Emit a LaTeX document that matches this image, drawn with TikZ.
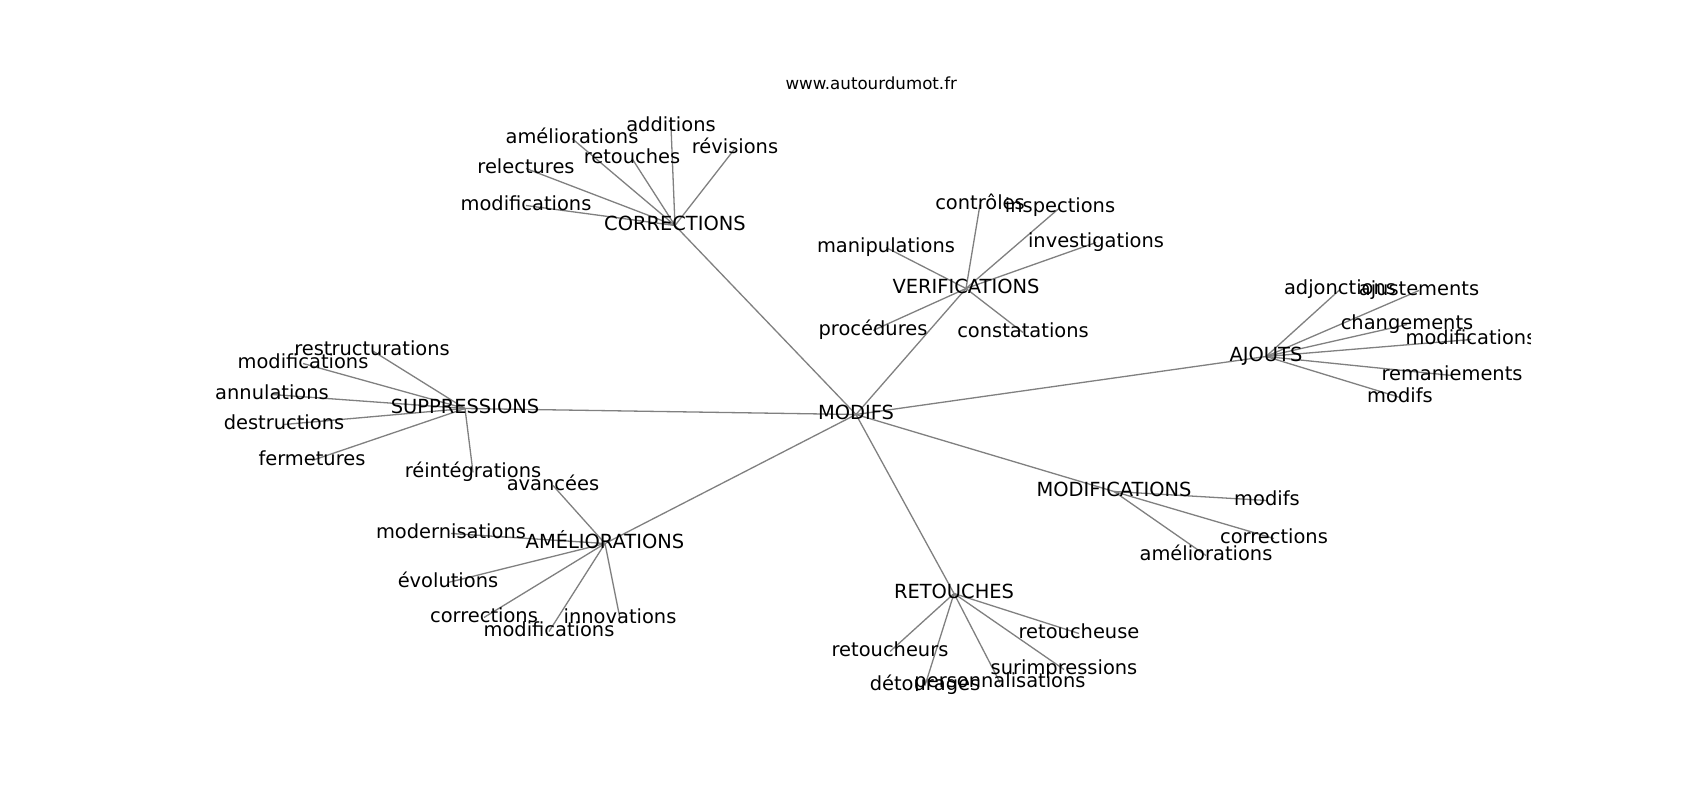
\documentclass[tikz,border=0pt]{standalone}
\usepackage{fontspec}
\setmainfont{DejaVu Sans}
\usetikzlibrary{backgrounds}
\begin{document}
\begin{tikzpicture}[x=1pt,y=-1pt,
  lbl/.style={inner sep=0pt, text height=14.77pt, text depth=4.04pt,
    font=\fontsize{19.44}{23}\selectfont, text=black},
  titlelbl/.style={anchor=base, inner sep=0pt, font=\fontsize{16.67}{20}\selectfont, text=black},
  edge/.style={draw=gray, line width=1.3pt}]
\useasboundingbox (0,0) rectangle (1700,800);
\begin{scope}[yshift=-1.5pt]
\node[titlelbl] (title) at (871.25,87.7) {www.autourdumot.fr};
\clip (0,-10) rectangle (1530,810);
% hub
\node[lbl] (m) at (856,413) {MODIFS};
% CORRECTIONS
\node[lbl] (co) at (675,224) {CORRECTIONS};
\node[lbl] (co1) at (671,125) {additions};
\node[lbl] (co2) at (572,137) {améliorations};
\node[lbl] (co3) at (632,157) {retouches};
\node[lbl] (co4) at (735,147) {révisions};
\node[lbl] (co5) at (526,167) {relectures};
\node[lbl] (co6) at (526,204) {modifications};
% VERIFICATIONS
\node[lbl] (v) at (966,287) {VERIFICATIONS};
\node[lbl] (v1) at (980,203) {contrôles};
\node[lbl] (v2) at (1060,206) {inspections};
\node[lbl] (v3) at (1096,241) {investigations};
\node[lbl] (v4) at (886,246) {manipulations};
\node[lbl] (v5) at (873,329) {procédures};
\node[lbl] (v6) at (1023,331) {constatations};
% AJOUTS
\node[lbl] (a) at (1266,355) {AJOUTS};
\node[lbl] (a1) at (1340,288) {adjonctions};
\node[lbl] (a2) at (1419,289) {ajustements};
\node[lbl] (a3) at (1407,323) {changements};
\node[lbl] (a4) at (1471,338) {modifications};
\node[lbl] (a5) at (1452,374) {remaniements};
\node[lbl] (a6) at (1400,396) {modifs};
% SUPPRESSIONS
\node[lbl] (s) at (465,407) {SUPPRESSIONS};
\node[lbl] (s1) at (372,349) {restructurations};
\node[lbl] (s2) at (303,362) {modifications};
\node[lbl] (s3) at (272,393) {annulations};
\node[lbl] (s4) at (284,423) {destructions};
\node[lbl] (s5) at (312,459) {fermetures};
\node[lbl] (s6) at (473,471) {réintégrations};
% AMELIORATIONS
\node[lbl] (am) at (605,542) {AMÉLIORATIONS};
\node[lbl] (am1) at (553,484) {avancées};
\node[lbl] (am2) at (451,532) {modernisations};
\node[lbl] (am3) at (448,581) {évolutions};
\node[lbl] (am4) at (484,616) {corrections};
\node[lbl] (am5) at (549,630) {modifications};
\node[lbl] (am6) at (620,617) {innovations};
% RETOUCHES
\node[lbl] (r) at (954,592) {RETOUCHES};
\node[lbl] (r1) at (890,650) {retoucheurs};
\node[lbl] (r2) at (925,684) {détourages};
\node[lbl] (r3) at (1000,681) {personnalisations};
\node[lbl] (r4) at (1064,668) {surimpressions};
\node[lbl] (r5) at (1079,632) {retoucheuse};
% MODIFICATIONS
\node[lbl] (mo) at (1114,490) {MODIFICATIONS};
\node[lbl] (mo1) at (1267,499) {modifs};
\node[lbl] (mo2) at (1274,537) {corrections};
\node[lbl] (mo3) at (1206,554) {améliorations};
\end{scope}
\begin{pgfonlayer}{background}
\fill[white] (0,0) rectangle (1700,800);
\foreach \h in {co,v,a,s,am,r,mo} {\draw[edge] (m.center) -- (\h.center);}
\foreach \c in {co1,co2,co3,co4,co5,co6} {\draw[edge] (co.center) -- (\c.center);}
\foreach \c in {v1,v2,v3,v4,v5,v6} {\draw[edge] (v.center) -- (\c.center);}
\foreach \c in {a1,a2,a3,a4,a5,a6} {\draw[edge] (a.center) -- (\c.center);}
\foreach \c in {s1,s2,s3,s4,s5,s6} {\draw[edge] (s.center) -- (\c.center);}
\foreach \c in {am1,am2,am3,am4,am5,am6} {\draw[edge] (am.center) -- (\c.center);}
\foreach \c in {r1,r2,r3,r4,r5} {\draw[edge] (r.center) -- (\c.center);}
\foreach \c in {mo1,mo2,mo3} {\draw[edge] (mo.center) -- (\c.center);}
\end{pgfonlayer}
\end{tikzpicture}
\end{document}
